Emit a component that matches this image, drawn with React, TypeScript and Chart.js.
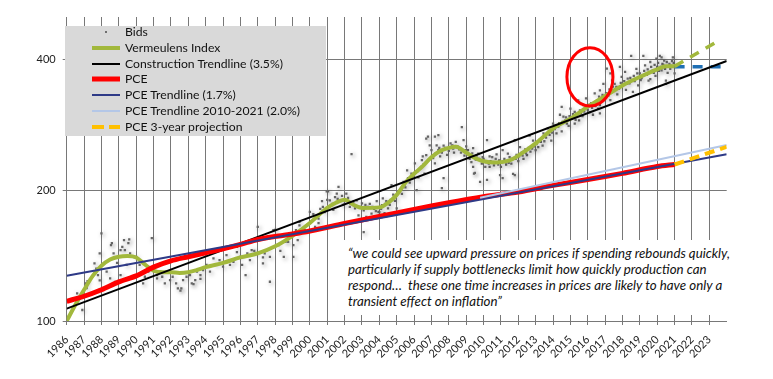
import { useEffect, useRef, useState } from 'react';
import { Chart, registerables } from 'chart.js';

Chart.register(...registerables);

// ---------- axis ----------
const xMin = 1986;
const xMax = 2024;
const yMin = 100;
const yMax = 500;
const yTicks = [100, 200, 400];
const yearTicks = [1986, 1987, 1988, 1989, 1990, 1991, 1992, 1993, 1994, 1995, 1996, 1997, 1998, 1999, 2000, 2001, 2002, 2003, 2004, 2005, 2006, 2007, 2008, 2009, 2010, 2011, 2012, 2013, 2014, 2015, 2016, 2017, 2018, 2019, 2020, 2021, 2022, 2023];

// ---------- Vermeulens Index ----------
const indexYears = [1986, 1986.5, 1987, 1987.5, 1988, 1988.5, 1989, 1989.5, 1990, 1990.5, 1991, 1991.5, 1992, 1992.5, 1993, 1993.5, 1994, 1995, 1996, 1997, 1998, 1999, 2000, 2000.5, 2001, 2001.5, 2002, 2002.5, 2003, 2004, 2004.5, 2005, 2005.5, 2006, 2006.5, 2007, 2007.5, 2008, 2008.4, 2009, 2009.5, 2010, 2010.75, 2011.5, 2012, 2013, 2014, 2015, 2016, 2017, 2018, 2019, 2020, 2020.5, 2021];
const indexValues = [100, 109, 118, 127, 134, 138.5, 140.5, 141, 140, 135, 130.5, 129.5, 129.5, 129, 129.5, 131, 133, 136, 140, 143, 148.5, 157, 168, 175, 182, 187, 190, 185, 182, 182.5, 187, 195, 208, 218, 227, 238, 246, 250, 251.5, 244, 237, 233, 231.5, 234, 240, 256, 277, 292, 311, 329, 348, 364, 379, 385, 385];
const indexProjYears = [2021, 2023.4];
const indexProjValues = [385, 438];
const flatProjYears = [2021, 2024];
const flatProjValues = [384, 384];

// ---------- trendlines ----------
const constructionYears = [1986, 2024];
const constructionValues = [106.8, 396];
const pceTrendYears = [1986, 2024];
const pceTrendValues = [127, 241.7];
const pceTrend2010Years = [2009.8, 2024];
const pceTrend2010Values = [192, 254];

// ---------- PCE ----------
const pceYears = [1986, 1987, 1988, 1989, 1990, 1991, 1992, 1993, 1994, 1995, 1996, 1997, 1998, 1999, 2000, 2002, 2004, 2006, 2008, 2010, 2012, 2014, 2016, 2018, 2020, 2021];
const pceValues = [111, 114, 118, 123, 127, 133, 137.5, 140.5, 143.5, 146.5, 150, 154, 156.5, 158.5, 161, 167.5, 174, 180.5, 187, 193, 198, 205, 211.5, 218.5, 226.5, 229];
const pceProjYears = [2021, 2024];
const pceProjValues = [229, 251.5];

// ---------- highlight ellipse (data coords) ----------
const highlightYears = [2014.8, 2017.45];
const highlightValues = [312, 425];

// ---------- Bids (year, value) ----------
const bids: number[][] = [
  [1986.6, 115.8], [1986.65, 113], [1986.9, 106], [1987.1, 122], [1987.2, 123.5], [1987.15, 119], [1987.6, 135.7], [1987.7, 132], [1987.8, 127.5], [1987.9, 124],
  [1988.0, 159], [1987.9, 143], [1988.3, 129.8], [1988.5, 125.3], [1988.6, 151], [1988.7, 143], [1988.9, 136], [1989.1, 145.5], [1989.2, 148], [1989.3, 153.4],
  [1989.35, 145.5], [1989.55, 151], [1989.65, 143], [1989.1, 127.5], [1989.45, 134.6], [1990.0, 140.5], [1990.2, 134.6], [1990.9, 155], [1990.5, 126.4], [1990.7, 129.8],
  [1991.0, 132], [1991.2, 127.5], [1991.4, 129.8], [1991.5, 126.4], [1991.75, 129.8], [1991.95, 124.2], [1992.1, 126.4], [1992.3, 122], [1992.4, 118.9], [1992.6, 118.9],
  [1992.7, 124.2], [1992.9, 126.4], [1993.1, 127.5], [1993.2, 122], [1993.4, 124.2], [1993.5, 129.8], [1993.7, 127.5], [1993.85, 130.9], [1994.05, 134.6], [1994.25, 129.8],
  [1994.45, 139.3], [1994.6, 134.6], [1994.8, 138], [1995.0, 133.3], [1995.2, 141.8], [1995.4, 134.6], [1995.6, 136.8], [1995.8, 144], [1996.0, 140.5], [1996.1, 134.6],
  [1996.3, 127.5], [1996.65, 145.5], [1996.9, 143], [1997.0, 164.5], [1997.3, 135.7], [1997.3, 140], [1997.7, 123.1], [1997.9, 161.7], [1998.0, 162], [1998.2, 149.4],
  [1998.5, 140.5], [1998.6, 152], [1998.85, 157.6], [1999.05, 140.5], [1999.05, 149.4], [1999.3, 153.4], [1999.4, 169], [1999.4, 166], [1999.4, 159], [1999.7, 161.7],
  [2000.0, 178.2], [2000.3, 164.6], [2000.5, 172], [1989.6, 154], [1988.55, 149.4], [1988.8, 123], [1987.9, 118], [1990.4, 122], [1991.2, 125.3], [1991.65, 122],
  [1992.55, 117.5], [1993.3, 121.5], [1993.7, 125], [1995.8, 148], [1996.4, 143], [1996.55, 138], [1996.8, 145], [1997.4, 143], [1997.6, 146], [1997.7, 140.5],
  [1998.3, 145], [1998.75, 152], [1999.2, 161.7],
  [2000.7, 188.6], [2000.75, 183], [2001.05, 198.6], [2001.15, 189.5], [2001.25, 184.6], [2001.45, 192.7], [2001.55, 196.2], [2001.65, 203.5], [2001.75, 188.6], [2002.1, 196.2],
  [2002.4, 242], [2002.6, 181.5], [2002.7, 189.5], [2002.8, 175], [2003.0, 186.4], [2003.1, 179.7], [2003.1, 160], [2003.25, 173.6], [2003.35, 183], [2003.55, 176.6],
  [2003.85, 188.6], [2003.95, 178.2], [2004.15, 184.6], [2004.2, 191.3], [2004.4, 188.6], [2004.5, 181.5], [2004.7, 205.4], [2004.8, 195.3], [2005.0, 181.5], [2005.15, 198.6],
  [2005.4, 209], [2005.6, 222], [2005.65, 213], [2005.85, 218.3], [2006.05, 230.4], [2006.15, 200], [2006.35, 224.5], [2006.45, 234.3], [2006.6, 218.3], [2006.7, 240.5],
  [2006.8, 265.5], [2007.0, 247], [2007.2, 230.4], [2007.3, 253.4], [2007.4, 267.4], [2000.97, 198.6], [2000.2, 176], [2000.5, 168], [2000.85, 178], [2001.35, 180],
  [2001.9, 185], [2002.2, 192], [2002.35, 186], [2002.9, 183], [2003.45, 186], [2003.7, 181], [2004.0, 178], [2004.3, 177], [2004.6, 185], [2004.9, 189],
  [2005.3, 196], [2005.5, 203], [2005.75, 208], [2006.25, 214], [2006.55, 229],
  [2000.6, 181], [2001.0, 190], [2001.3, 186], [2001.6, 191], [2001.85, 194], [2002.0, 186], [2002.3, 183], [2002.5, 188], [2003.2, 185], [2003.6, 183],
  [2003.8, 179], [2004.1, 181], [2004.35, 186], [2004.65, 190], [2004.95, 193], [2005.2, 201], [2005.45, 205], [2005.7, 211], [2005.95, 215], [2006.2, 221], [2006.4, 226],
  [2006.7, 262.6], [2007.2, 265.5], [2006.9, 253.4], [2007.4, 247], [2006.5, 239], [2007.5, 239], [2008.2, 253.4], [2008.75, 279], [2008.85, 260.4], [2009.1, 247],
  [2009.4, 249.7], [2009.7, 242.6], [2010.2, 260.4], [2010.35, 239], [2010.75, 241.5], [2011.1, 247], [2011.4, 242.6], [2011.8, 260.4], [2012.1, 251], [2012.5, 240.5],
  [2012.65, 267], [2012.85, 260], [2013.15, 251], [2013.45, 270], [2013.7, 277.4], [2014.0, 284.5], [2014.2, 270], [2014.4, 298], [2014.6, 295], [2014.8, 284.5],
  [2015.0, 308], [2015.25, 302.6], [2015.45, 321.6], [2015.75, 313.4], [2015.9, 325], [2016.2, 316.7], [2016.4, 333.6], [2016.7, 339], [2016.9, 351], [2017.1, 380.3],
  [2017.0, 325], [2017.4, 357.4], [2017.65, 345.6], [2016.3, 298], [2015.5, 289.4], [2014.5, 310.5], [2015.25, 284.5], [2016.7, 300], [2016.7, 313.4],
  [2009.4, 226], [2009.45, 218.3], [2009.8, 209], [2010.2, 211], [2010.95, 216.6], [2011.1, 213], [2011.7, 218], [2007.6, 202], [2007.7, 213], [2009.5, 219],
  [2010.35, 226], [2011.8, 216.6],
  [2007.1, 237], [2007.6, 244], [2007.8, 250], [2008.0, 246], [2008.1, 256], [2008.3, 244], [2008.4, 258], [2008.6, 248], [2008.9, 240], [2009.0, 252],
  [2009.2, 236], [2009.3, 232], [2009.6, 240], [2009.9, 230], [2010.0, 236], [2010.1, 226], [2010.4, 233], [2010.5, 238], [2010.6, 228], [2010.9, 234],
  [2011.0, 226], [2011.2, 236], [2011.3, 229], [2011.5, 238], [2011.6, 230], [2011.9, 241], [2012.0, 233], [2012.2, 244], [2012.3, 236], [2012.4, 248],
  [2012.7, 245], [2012.9, 252], [2013.0, 247], [2013.3, 258], [2013.4, 253], [2013.6, 264], [2013.8, 268], [2013.9, 260], [2014.1, 276], [2014.3, 280],
  [2014.5, 273], [2014.7, 289], [2014.9, 281], [2015.1, 294], [2015.3, 290], [2015.6, 300], [2015.7, 296], [2016.0, 306], [2016.1, 302], [2016.5, 318],
  [2016.6, 308], [2016.8, 322], [2017.2, 330], [2017.3, 322], [2017.5, 338], [2017.7, 332], [2017.8, 342], [2018.0, 348], [2018.2, 340], [2018.4, 352],
  [2018.7, 356], [2018.9, 348], [2019.1, 362], [2019.4, 368], [2019.6, 360], [2019.8, 372], [2019.9, 366], [2020.0, 384], [2020.1, 376], [2020.3, 390],
  [2020.45, 380], [2020.6, 372], [2020.8, 386], [2020.95, 392],
  [2007.25, 243], [2007.45, 250], [2007.7, 253], [2007.9, 241], [2008.05, 251], [2008.25, 249], [2008.5, 252], [2008.7, 244], [2008.95, 247], [2009.15, 241],
  [2009.35, 243], [2009.55, 235], [2009.75, 236], [2009.95, 238], [2010.15, 232], [2010.3, 230], [2010.55, 232], [2010.7, 236], [2010.85, 229], [2011.05, 232],
  [2011.25, 233], [2011.45, 231], [2011.65, 236], [2011.85, 236], [2012.05, 239], [2012.25, 240], [2012.45, 243], [2012.6, 250], [2012.8, 249], [2013.05, 255],
  [2013.25, 262], [2013.5, 259], [2013.75, 272], [2013.95, 271],
  [2014.15, 282], [2014.35, 285], [2014.55, 287], [2014.75, 294], [2014.95, 296], [2015.15, 299], [2015.35, 297], [2015.55, 305], [2015.8, 303], [2016.05, 314],
  [2016.25, 309], [2016.45, 312], [2016.65, 328], [2016.85, 331], [2017.05, 334], [2017.25, 341], [2017.45, 346], [2017.6, 340], [2017.9, 353], [2018.1, 356],
  [2018.25, 351], [2018.45, 362], [2018.65, 366], [2018.85, 371], [2019.05, 358], [2019.25, 376], [2019.45, 379], [2019.65, 384], [2019.85, 388], [2020.05, 392],
  [2020.2, 384], [2020.35, 388], [2020.55, 394], [2020.75, 380], [2020.85, 396], [2021.0, 386],
  [2017.3, 371], [2017.4, 336.5], [2017.55, 351], [2017.85, 384], [2017.95, 364], [2018.15, 374], [2018.3, 361], [2018.5, 407], [2018.6, 336.5], [2018.8, 380],
  [2019.0, 371], [2019.2, 407], [2019.3, 387], [2019.5, 357], [2019.6, 394], [2019.75, 377], [2019.95, 401], [2020.15, 407], [2020.25, 377], [2020.4, 397],
  [2020.5, 357], [2020.7, 390], [2020.9, 404], [2021.0, 371], [2020.25, 404], [2020.5, 351],
];

// ---------- legend ----------
const legendLabels = ['Bids', 'Vermeulens Index', 'Construction Trendline (3.5%)', 'PCE', 'PCE Trendline (1.7%)', 'PCE Trendline 2010-2021 (2.0%)', 'PCE 3-year projection'];
const legendColors = ['#6e6e6e', '#a2b83c', '#000000', '#ff0000', '#2e3a87', '#b4c7e7', '#ffc000'];
const legendWidths = [0, 4, 2, 5, 2, 2, 4];

const quoteLines = [
  '\u201cwe could see upward pressure on prices if spending rebounds quickly,',
  'particularly if supply bottlenecks limit how quickly production can',
  'respond\u2026  these one time increases in prices are likely to have only a',
  'transient effect on inflation\u201d',
];

const zip = (xs: number[], ys: number[]) => xs.map((x, i) => ({ x, y: ys[i] }));

const GREEN = '#a2b83c';
const GRID = '#787878';

const alignPx = (p: number) => Math.round(p - 0.5) + 0.5;

const bidShadow = {
  id: 'bidShadow',
  beforeDatasetDraw(chart: any, args: any) {
    if (args.index === 0) {
      const c = chart.ctx;
      c.save();
      c.shadowColor = 'rgba(0,0,0,0.55)';
      c.shadowBlur = 4;
      c.shadowOffsetX = 1.5;
      c.shadowOffsetY = 1.5;
    }
  },
  afterDatasetDraw(chart: any, args: any) {
    if (args.index === 0) chart.ctx.restore();
  },
};

const highlight = {
  id: 'highlight',
  afterDatasetsDraw(chart: any) {
    const { x, y } = chart.scales;
    const x0 = x.getPixelForValue(highlightYears[0]);
    const x1 = x.getPixelForValue(highlightYears[1]);
    const y0 = y.getPixelForValue(highlightValues[1]);
    const y1 = y.getPixelForValue(highlightValues[0]);
    const c = chart.ctx;
    c.save();
    c.beginPath();
    c.ellipse((x0 + x1) / 2, (y0 + y1) / 2, (x1 - x0) / 2, (y1 - y0) / 2, 0, 0, Math.PI * 2);
    c.strokeStyle = '#ff0000';
    c.lineWidth = 3;
    c.stroke();
    c.restore();
  },
};

export default function App() {
  const ref = useRef<HTMLCanvasElement>(null);
  const [grid, setGrid] = useState<{ xs: number[]; top: number; bottom: number } | null>(null);

  useEffect(() => {
    if (!ref.current) return;
    const lineBase = { type: 'line' as const, pointRadius: 0, fill: false, showLine: true };
    const chart = new Chart(ref.current, {
      type: 'line',
      data: {
        datasets: [
          {
            type: 'scatter',
            label: 'Bids',
            data: bids.map(([x, y]) => ({ x, y })),
            pointStyle: 'rect',
            pointRadius: 1.6,
            pointBackgroundColor: '#666666',
            pointBorderColor: '#666666',
            pointBorderWidth: 0,
            showLine: false,
            order: 10,
          },
          { ...lineBase, label: 'Vermeulens Index', data: zip(indexYears, indexValues), borderColor: GREEN, borderWidth: 4, cubicInterpolationMode: 'monotone', order: 5 },
          { ...lineBase, label: 'Index projection', data: zip(indexProjYears, indexProjValues), borderColor: GREEN, borderWidth: 3.5, borderDash: [10, 8], order: 5 },
          { ...lineBase, label: 'Flat projection', data: zip(flatProjYears, flatProjValues), borderColor: '#1f6fb4', borderWidth: 3.5, borderDash: [10, 8], order: 5 },
          { ...lineBase, label: 'Construction Trendline (3.5%)', data: zip(constructionYears, constructionValues), borderColor: '#000000', borderWidth: 2, order: 4 },
          { ...lineBase, label: 'PCE', data: zip(pceYears, pceValues), borderColor: '#ff0000', borderWidth: 5, tension: 0.3, order: 3 },
          { ...lineBase, label: 'PCE Trendline (1.7%)', data: zip(pceTrendYears, pceTrendValues), borderColor: '#2e3a87', borderWidth: 2, order: 2 },
          { ...lineBase, label: 'PCE Trendline 2010-2021 (2.0%)', data: zip(pceTrend2010Years, pceTrend2010Values), borderColor: '#b4c7e7', borderWidth: 2, order: 1 },
          { ...lineBase, label: 'PCE 3-year projection', data: zip(pceProjYears, pceProjValues), borderColor: '#ffc000', borderWidth: 4, borderDash: [10, 6], order: 0 },
        ] as any,
      },
      options: {
        animation: false,
        responsive: false,
        events: [],
        layout: { padding: { top: 17, right: 46.3, left: 0, bottom: 0 } },
        plugins: { legend: { display: false }, tooltip: { enabled: false } },
        scales: {
          x: {
            type: 'linear',
            min: xMin,
            max: xMax,
            afterFit: (s: any) => { s.height = 58; },
            afterBuildTicks: (s: any) => { s.ticks = yearTicks.map((v) => ({ value: v })); },
            grid: { display: true, drawOnChartArea: true, color: GRID, lineWidth: 1, tickLength: 4 },
            border: { display: true, color: GRID },
            ticks: {
              autoSkip: false,
              minRotation: 45,
              maxRotation: 45,
              padding: 8,
              color: '#222',
              font: { family: 'Lato', size: 11 },
              callback: (v: any) => String(v),
            },
          },
          y: {
            type: 'logarithmic',
            min: yMin,
            max: yMax,
            afterFit: (s: any) => { s.width = 66.7; },
            afterBuildTicks: (s: any) => { s.ticks = yTicks.map((v) => ({ value: v })); },
            grid: { color: GRID, lineWidth: 1, tickLength: 4 },
            border: { color: GRID },
            ticks: {
              padding: 7,
              color: '#222',
              font: { family: 'Lato', size: 11 },
              callback: (v: any) => String(v),
            },
          },
        },
      } as any,
      plugins: [bidShadow, highlight],
    });
    const xs = yearTicks.map((yr) => alignPx(chart.scales.x.getPixelForValue(yr)));
    setGrid({ xs, top: chart.chartArea.top, bottom: chart.chartArea.bottom });
    return () => chart.destroy();
  }, []);

  return (
    <div style={{ position: 'absolute', left: 0, top: 0, width: 773, height: 379, background: '#fff', overflow: 'hidden' }}>
      {grid && (
        <svg width={773} height={379} style={{ position: 'absolute', left: 0, top: 0 }}>
          {grid.xs.map((px, i) => (
            <line key={i} x1={px} y1={grid.top} x2={px} y2={grid.bottom + 4} stroke={GRID} strokeWidth={1} />
          ))}
        </svg>
      )}
      <canvas ref={ref} width={773} height={379} style={{ position: 'absolute', left: 0, top: 0 }} />
      <div style={{ position: 'absolute', left: 65, top: 26, width: 261, height: 110, background: '#d9d9d9' }}>
        {legendLabels.map((label, i) => (
          <div key={label} style={{ position: 'absolute', left: 0, top: 6 + i * 15.8 - 8, height: 16, width: 261 }}>
            <svg width={30} height={16} style={{ position: 'absolute', left: 26, top: 0 }}>
              {i === 0 ? (
                <rect x={14} y={7} width={2} height={2} fill={legendColors[i]} />
              ) : (
                <line x1={1} y1={8} x2={29} y2={8} stroke={legendColors[i]} strokeWidth={legendWidths[i]} strokeDasharray={i === 6 ? '12 5' : undefined} />
              )}
            </svg>
            <span style={{ position: 'absolute', left: 60, top: 0, lineHeight: '16px', fontFamily: 'Lato', fontSize: 12.2, color: '#111', whiteSpace: 'nowrap' }}>{label}</span>
          </div>
        ))}
      </div>
      <div style={{ position: 'absolute', left: 337, top: 240, width: 400, height: 75, background: '#fff' }}>
        {quoteLines.map((t, i) => (
          <div key={i} style={{ position: 'absolute', left: 11, top: 5 + i * 16, lineHeight: '16px', fontFamily: 'Lato', fontStyle: 'italic', fontSize: 13.3, color: '#111', whiteSpace: 'pre' }}>{t}</div>
        ))}
      </div>
    </div>
  );
}
